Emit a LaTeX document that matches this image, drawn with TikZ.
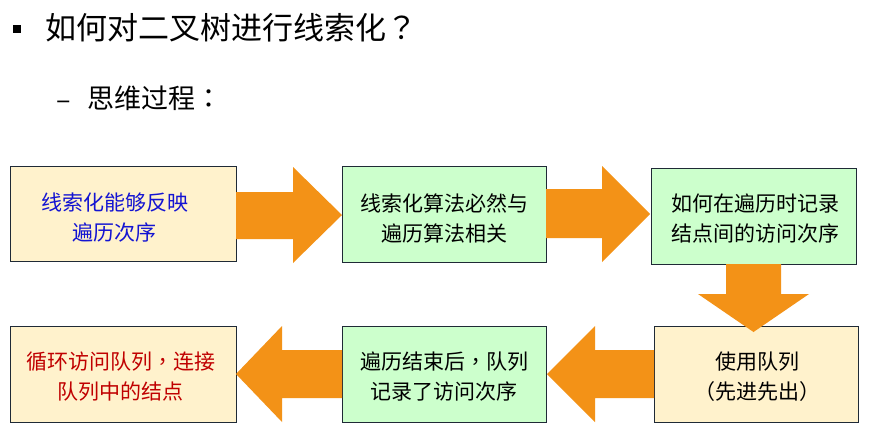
\documentclass[tikz,border=0pt]{standalone}
\usepackage{fontspec}
\setmainfont{Noto Sans CJK SC}
\newfontfamily\punctfont{Noto Sans CJK TC}
\newcommand{\pn}[1]{{\punctfont #1}}
\definecolor{boxyellow}{HTML}{FFF2CC}
\definecolor{boxgreen}{HTML}{CCFFCC}
\definecolor{arroworange}{HTML}{F39217}
\definecolor{boxline}{HTML}{1F2A36}
\definecolor{textblue}{HTML}{1414D2}
\definecolor{textred}{HTML}{C00000}
\tikzset{
  stepbox/.style={draw=boxline, line width=0.9pt, inner sep=0pt, minimum height=96pt,
    align=center, font=\fontsize{21pt}{30pt}\selectfont},
  ybox/.style={stepbox, fill=boxyellow},
  gbox/.style={stepbox, fill=boxgreen},
  boxtext/.style={align=center, font=\fontsize{21pt}{30pt}\selectfont},
  blockarrow/.style={fill=arroworange, draw=none},
}
\begin{document}
\begin{tikzpicture}[x=1pt,y=-1pt]
\useasboundingbox[fill=white] (0,0) rectangle (880,445);
% title
\fill[black] (13,25) rectangle (21,33);
\node[anchor=west, inner sep=0pt, font=\fontsize{31pt}{36pt}\selectfont] (title) at (45,28) {如何对二叉树进行线索化\pn{？}};
\node[anchor=west, inner sep=0pt, font=\fontsize{27pt}{32pt}\selectfont] (dash) at (56,105) {–};
\node[anchor=west, inner sep=0pt, font=\fontsize{27pt}{32pt}\selectfont] (sub) at (87,98) {思维过程\pn{：}};
% boxes
\node[ybox, minimum width=226pt, minimum height=95pt] (b1) at (123,213.5) {};
\node[gbox, minimum width=204pt] (b2) at (444,214) {};
\node[gbox, minimum width=205pt] (b3) at (753.5,216) {};
\node[ybox, minimum width=204pt] (b4) at (756,374) {};
\node[gbox, minimum width=204pt] (b5) at (444,374) {};
\node[ybox, minimum width=226pt] (b6) at (123,374) {};
% texts
\node[boxtext, text=textblue] (t1) at (115,218) {线索化能够反映\\遍历次序};
\node[boxtext] (t2) at (444,218) {线索化算法必然与\\遍历算法相关};
\node[boxtext] (t3) at (755,219) {如何在遍历时记录\\结点间的访问次序};
\node[boxtext] (t4) at (757,377) {使用队列\\\pn{（}先进先出\pn{）}};
\node[boxtext] (t5) at (444,377) {遍历结束后\pn{，}队列\\记录了访问次序};
\node[boxtext, text=textred] (t6) at (121,377) {循环访问队列\pn{，}连接\\队列中的结点};
% block arrows
\fill[blockarrow] (236,192) -- (293,192) -- (293,167) -- (342,215) -- (293,263) -- (293,239) -- (236,239) -- cycle;
\fill[blockarrow] (546,189) -- (602,189) -- (602,166) -- (650,214) -- (602,262) -- (602,238) -- (546,238) -- cycle;
\fill[blockarrow] (726,264) -- (781,264) -- (781,294) -- (809,294) -- (753.5,332) -- (698,294) -- (726,294) -- cycle;
\fill[blockarrow] (654,350) -- (595,350) -- (595,326) -- (547,374) -- (595,422) -- (595,398) -- (654,398) -- cycle;
\fill[blockarrow] (342,350) -- (282,350) -- (282,326) -- (236,374) -- (282,422) -- (282,398) -- (342,398) -- cycle;
\end{tikzpicture}
\end{document}
